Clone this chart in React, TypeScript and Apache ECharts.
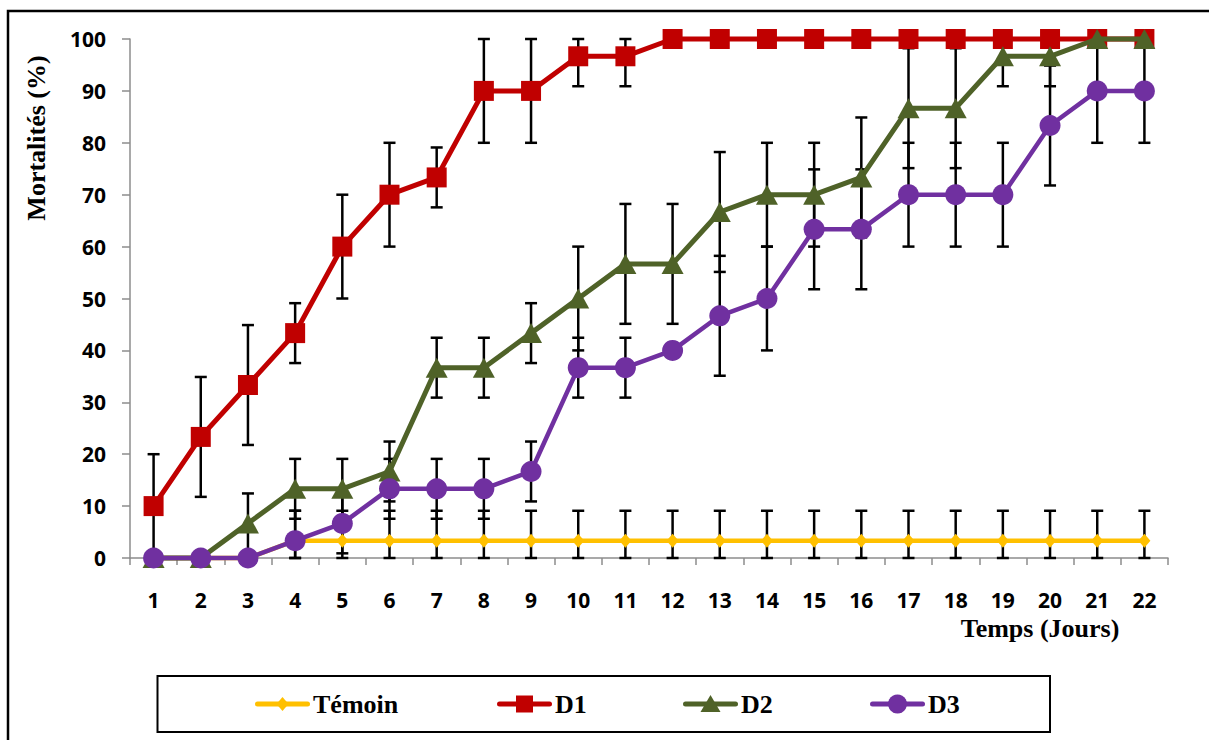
import React, { useEffect, useRef } from "react";
import * as echarts from "echarts";

// Days of observation
const days = [
  "1", "2", "3", "4", "5", "6", "7", "8", "9", "10", "11",
  "12", "13", "14", "15", "16", "17", "18", "19", "20", "21", "22",
];

// Mean cumulative mortality (%) per treatment
const temoin = [0, 0, 0, 3.33, 3.33, 3.33, 3.33, 3.33, 3.33, 3.33, 3.33, 3.33, 3.33, 3.33, 3.33, 3.33, 3.33, 3.33, 3.33, 3.33, 3.33, 3.33];
const d1 = [10, 23.33, 33.33, 43.33, 60, 70, 73.33, 90, 90, 96.67, 96.67, 100, 100, 100, 100, 100, 100, 100, 100, 100, 100, 100];
const d2 = [0, 0, 6.67, 13.33, 13.33, 16.67, 36.67, 36.67, 43.33, 50, 56.67, 56.67, 66.67, 70, 70, 73.33, 86.67, 86.67, 96.67, 96.67, 100, 100];
const d3 = [0, 0, 0, 3.33, 6.67, 13.33, 13.33, 13.33, 16.67, 36.67, 36.67, 40, 46.67, 50, 63.33, 63.33, 70, 70, 70, 83.33, 90, 90];

// Standard deviations (%) per treatment
const temoinSd = [0, 0, 0, 5.77, 5.77, 5.77, 5.77, 5.77, 5.77, 5.77, 5.77, 5.77, 5.77, 5.77, 5.77, 5.77, 5.77, 5.77, 5.77, 5.77, 5.77, 5.77];
const d1Sd = [10, 11.55, 11.55, 5.77, 10, 10, 5.77, 10, 10, 5.77, 5.77, 0, 0, 0, 0, 0, 0, 0, 0, 0, 0, 0];
const d2Sd = [0, 0, 5.77, 5.77, 5.77, 5.77, 5.77, 5.77, 5.77, 10, 11.55, 11.55, 11.55, 10, 10, 11.55, 11.55, 11.55, 5.77, 5.77, 0, 0];
const d3Sd = [0, 0, 0, 5.77, 5.77, 5.77, 5.77, 5.77, 5.77, 5.77, 5.77, 0, 11.55, 10, 11.55, 11.55, 10, 10, 10, 11.55, 10, 10];

const yTicks = { min: 0, max: 100, interval: 10 };

const seriesDefs = [
  { name: "Témoin", values: temoin, sd: temoinSd, color: "#FFC000", symbol: "diamond", size: [12, 14], width: 4.5 },
  { name: "D1", values: d1, sd: d1Sd, color: "#C00000", symbol: "rect", size: [20, 20], width: 5 },
  { name: "D2", values: d2, sd: d2Sd, color: "#4F6228", symbol: "triangle", size: [22, 20], width: 5 },
  { name: "D3", values: d3, sd: d3Sd, color: "#7030A0", symbol: "circle", size: [21, 21], width: 4.5 },
];

// Left edge of each legend entry's sample line
const legendStarts = [255, 497, 683, 870];

const SERIF = "'Liberation Serif', 'Times New Roman', serif";
const SANS = "'Open Sans', 'Liberation Sans', sans-serif";

function errorBarSeries(name: string, values: number[], sd: number[]) {
  return {
    type: "custom",
    name: name + " σ",
    z: 1,
    silent: true,
    data: values.map((v, i) => [i, v, sd[i]]),
    encode: { x: 0, y: 1 },
    renderItem: (_params: any, api: any) => {
      const idx = api.value(0);
      const v = api.value(1);
      const e = api.value(2);
      if (!e) return null;
      const hi = Math.min(yTicks.max, v + e);
      const lo = Math.max(yTicks.min, v - e);
      const top = api.coord([idx, hi]);
      const bot = api.coord([idx, lo]);
      const half = 6;
      const style = { stroke: "#000000", lineWidth: 2.5 };
      return {
        type: "group",
        children: [
          { type: "line", shape: { x1: top[0], y1: top[1], x2: bot[0], y2: bot[1] }, style },
          { type: "line", shape: { x1: top[0] - half, y1: top[1], x2: top[0] + half, y2: top[1] }, style },
          { type: "line", shape: { x1: bot[0] - half, y1: bot[1], x2: bot[0] + half, y2: bot[1] }, style },
        ],
      };
    },
  };
}

// Legend sample marker drawn with plain graphic shapes
function legendMarker(symbol: string, cx: number, cy: number, color: string) {
  const style = { fill: color };
  if (symbol === "diamond") {
    return { type: "polygon", shape: { points: [[cx, cy - 7], [cx + 6, cy], [cx, cy + 7], [cx - 6, cy]] }, style };
  }
  if (symbol === "rect") {
    return { type: "rect", shape: { x: cx - 8.5, y: cy - 8.5, width: 17, height: 17 }, style };
  }
  if (symbol === "triangle") {
    return { type: "polygon", shape: { points: [[cx, cy - 9], [cx + 10, cy + 8], [cx - 10, cy + 8]] }, style };
  }
  return { type: "circle", shape: { cx, cy, r: 9.5 }, style };
}

function legendGraphics() {
  const cy = 704;
  const out: any[] = [];
  seriesDefs.forEach((s, i) => {
    const x0 = legendStarts[i];
    out.push({
      type: "group",
      silent: true,
      children: [
        {
          type: "rect",
          shape: { x: x0, y: cy - 2.5, width: 55, height: 5, r: 2.5 },
          style: { fill: s.color },
        },
        legendMarker(s.symbol, x0 + 27.5, cy, s.color),
        {
          type: "text",
          x: x0 + 58,
          y: cy,
          style: {
            text: s.name,
            fontFamily: SERIF,
            fontWeight: "bold",
            fontSize: 26,
            fill: "#000",
            align: "left",
            verticalAlign: "middle",
          },
        },
      ],
    });
  });
  return out;
}

export default function App() {
  const ref = useRef<HTMLDivElement>(null);

  useEffect(() => {
    if (!ref.current) return;
    const chart = echarts.init(ref.current, undefined, { renderer: "svg" });

    const lineSeries = seriesDefs.map((s, k) => ({
      type: "line",
      name: s.name,
      data: s.values,
      z: 3 + k,
      symbol: s.symbol,
      symbolSize: s.size,
      showAllSymbol: true,
      lineStyle: { color: s.color, width: s.width },
      itemStyle: { color: s.color },
      clip: false,
    }));

    const errSeries = seriesDefs.map((s) => errorBarSeries(s.name, s.values, s.sd));

    chart.setOption({
      animation: false,
      backgroundColor: "#ffffff",
      grid: { left: 130, right: 41, top: 39, bottom: 182, containLabel: false },
      xAxis: {
        type: "category",
        data: days,
        boundaryGap: true,
        axisLine: { lineStyle: { color: "#8c8c8c", width: 1.5 } },
        axisTick: { show: true, length: 7, alignWithLabel: false, lineStyle: { color: "#8c8c8c", width: 1.5 } },
        axisLabel: {
          interval: 0,
          margin: 31,
          color: "#000",
          fontFamily: SANS,
          fontWeight: "bold",
          fontSize: 21,
        },
        splitLine: { show: false },
      },
      yAxis: {
        type: "value",
        min: yTicks.min,
        max: yTicks.max,
        interval: yTicks.interval,
        axisLine: { show: true, lineStyle: { color: "#8c8c8c", width: 1.5 } },
        axisTick: { show: true, length: 8, lineStyle: { color: "#8c8c8c", width: 1.5 } },
        axisLabel: {
          margin: 24,
          color: "#000",
          fontFamily: SANS,
          fontWeight: "bold",
          fontSize: 21,
        },
        splitLine: { show: false },
      },
      graphic: [
        {
          type: "rect",
          silent: true,
          shape: { x: 8, y: 11, width: 1220, height: 760 },
          style: { fill: "none", stroke: "#000", lineWidth: 2.5 },
          z: 0,
        },
        {
          type: "rect",
          silent: true,
          shape: { x: 157.5, y: 676, width: 892.5, height: 56 },
          style: { fill: "none", stroke: "#000", lineWidth: 2 },
        },
        ...legendGraphics(),
        {
          type: "text",
          silent: true,
          x: 36,
          y: 138,
          rotation: Math.PI / 2,
          style: {
            text: "Mortalités (%)",
            fontFamily: SERIF,
            fontWeight: "bold",
            fontSize: 26,
            fill: "#000",
            align: "center",
            verticalAlign: "middle",
          },
        },
        {
          type: "text",
          silent: true,
          x: 1040,
          y: 628,
          style: {
            text: "Temps (Jours)",
            fontFamily: SERIF,
            fontWeight: "bold",
            fontSize: 26,
            fill: "#000",
            align: "center",
            verticalAlign: "middle",
          },
        },
      ],
      series: [...errSeries, ...lineSeries],
    });

    return () => chart.dispose();
  }, []);

  return (
    <div
      ref={ref}
      style={{ position: "fixed", left: 0, top: 0, width: 1209, height: 740, background: "#fff" }}
    />
  );
}
